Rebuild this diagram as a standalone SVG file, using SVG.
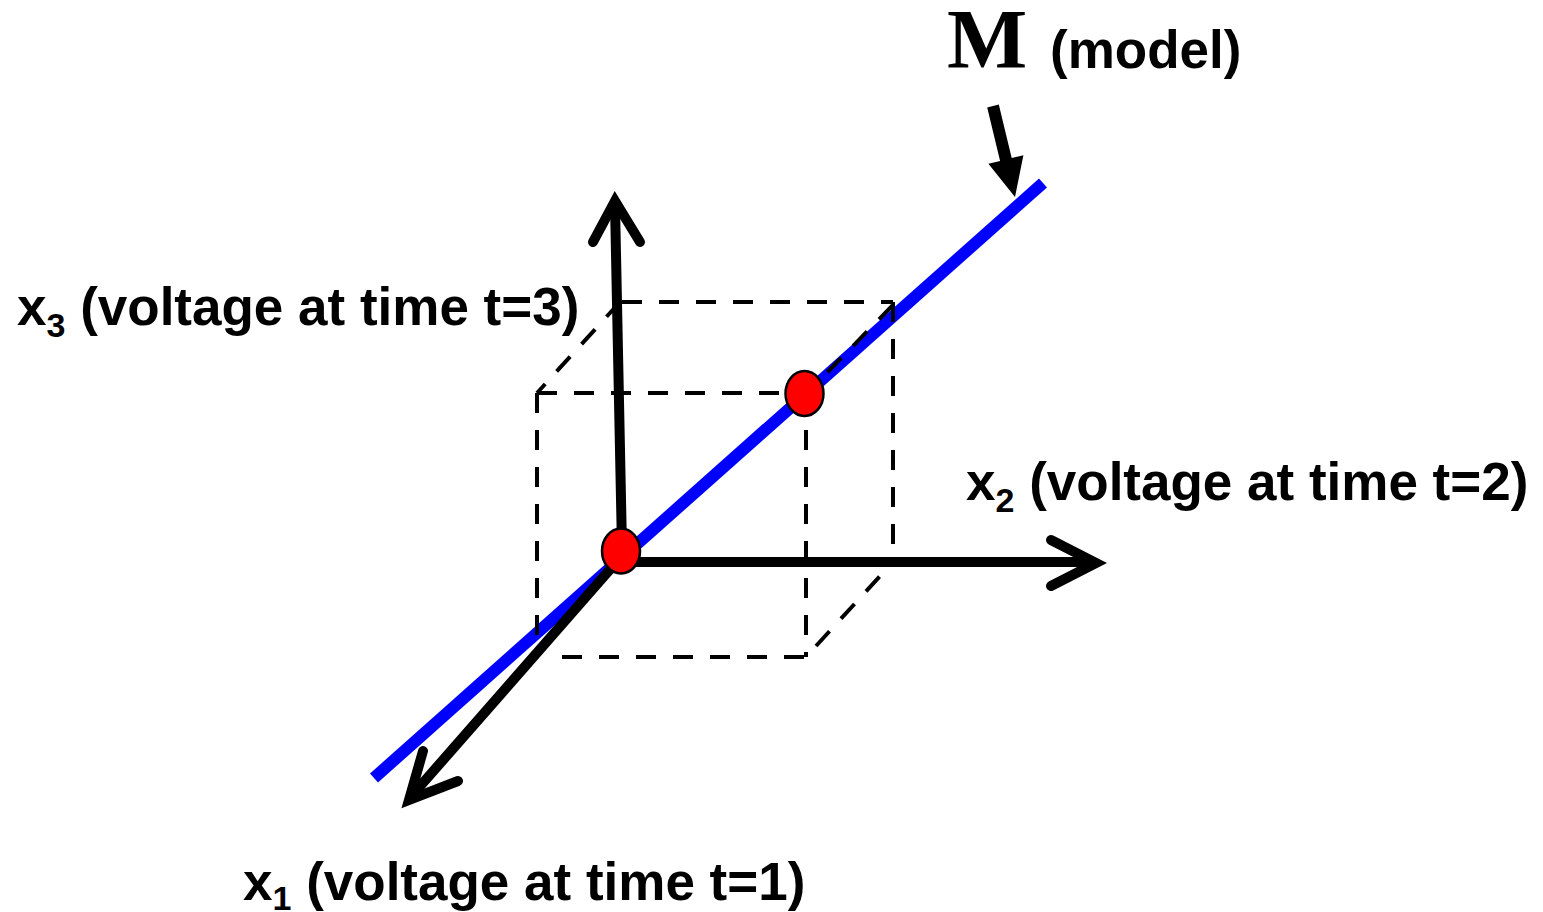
<svg xmlns="http://www.w3.org/2000/svg" width="1543" height="912" viewBox="0 0 1543 912">
<style>
.dash{fill:none;stroke:#000;stroke-width:4;stroke-dasharray:20 17}
.axis{fill:none;stroke:#000;stroke-width:10;stroke-linecap:round;stroke-linejoin:miter}
.lbl{font-family:"Liberation Sans",Arial,sans-serif;font-weight:bold;font-size:53px;fill:#000}
.dot{fill:#ff0000;stroke:#000;stroke-width:2.5}
</style>
<rect width="1543" height="912" fill="#fff"/>
<g id="model-line">
<line x1="374" y1="778" x2="1043" y2="183" stroke="#0000ff" stroke-width="12"/>
</g>
<g id="connectors">
<g id="box">
<line class="dash" x1="622" y1="302" x2="893" y2="302"/>
<line class="dash" x1="620" y1="302" x2="537" y2="393"/>
<line class="dash" x1="537" y1="393" x2="785" y2="393"/>
<line class="dash" x1="537" y1="393" x2="537" y2="655"/>
<line class="dash" x1="562" y1="657" x2="806" y2="657"/>
<line class="dash" x1="806" y1="393" x2="806" y2="657"/>
<line class="dash" x1="816" y1="646" x2="893" y2="562"/>
<line class="dash" x1="893" y1="302" x2="893" y2="562"/>
<line class="dash" x1="893" y1="305" x2="810" y2="390"/>
</g>
<g id="axis-x3">
<line class="axis" x1="622" y1="548" x2="615" y2="205"/>
<polyline class="axis" points="593,242 615,201 640,242"/>
</g>
<g id="axis-x2">
<line class="axis" x1="620" y1="562" x2="1092" y2="562"/>
<polyline class="axis" points="1051,540 1096,563 1051,586"/>
</g>
<g id="axis-x1">
<line class="axis" x1="620" y1="558" x2="415" y2="792"/>
<polyline class="axis" points="423,751 409,800 458,781"/>
</g>
<g id="model-arrow">
<polygon points="987.2,107.4 998.8,104.6 1011.7,158.1 1023.4,155.3 1015,197 988.4,163.7 1000.1,160.9" fill="#000"/>
</g>
</g>
<g id="point-origin"><ellipse class="dot" cx="621" cy="551" rx="19" ry="22.5"/></g>
<g id="point-data"><ellipse class="dot" cx="804.5" cy="393.5" rx="19" ry="22.5"/></g>
<g id="label-M">
<text x="947" y="68" font-family="'Liberation Serif','Times New Roman',serif" font-weight="bold" font-size="85">M</text>
<text class="lbl" x="1050" y="68">(model)</text>
</g>
<g id="label-x3">
<text class="lbl" x="17" y="325">x<tspan font-size="34" dy="12">3</tspan><tspan dy="-12"> (voltage at time t=3)</tspan></text>
</g>
<g id="label-x2">
<text class="lbl" x="966" y="500">x<tspan font-size="34" dy="12">2</tspan><tspan dy="-12"> (voltage at time t=2)</tspan></text>
</g>
<g id="label-x1">
<text class="lbl" x="243" y="900">x<tspan font-size="34" dy="10">1</tspan><tspan dy="-10"> (voltage at time t=1)</tspan></text>
</g>
</svg>
